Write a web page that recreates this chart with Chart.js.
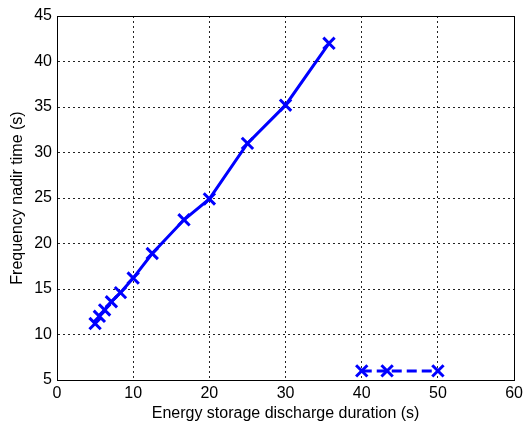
<!DOCTYPE html>
<html>
<head>
<meta charset="utf-8">
<script src="https://cdn.jsdelivr.net/npm/chart.js@4.4.1/dist/chart.umd.min.js"></script>
<style>
  html, body { margin: 0; padding: 0; background: #fff; }
  #wrap { width: 527px; height: 425px; }
</style>
</head>
<body>
<div id="wrap"><canvas id="nadirChart" width="527" height="425"></canvas></div>
<script>
// discharge duration (s) vs frequency nadir time (s)
const solidX = [5, 5.56, 6.25, 7.14, 8.33, 10, 12.5, 16.67, 20, 25, 30, 35.7];
const solidY = [11.2, 12.0, 12.7, 13.6, 14.6, 16.2, 18.9, 22.6, 24.9, 31.0, 35.2, 42.0];
const dashedX = [40, 43.33, 50];
const dashedY = [6, 6, 6];

const xTicks = [0, 10, 20, 30, 40, 50, 60];
const yTicks = [5, 10, 15, 20, 25, 30, 35, 40, 45];

function toPoints(xs, ys){
    return xs.map((x, i) => ({ x: x, y: ys[i] }));
}

// box round the plot area, like matlab axes
const boxPlugin = {
    id: 'box',
    afterDraw(chart){
        const a = chart.chartArea;
        const ctx = chart.ctx;
        ctx.save();
        ctx.strokeStyle = '#000';
        ctx.lineWidth = 1;
        ctx.setLineDash([]);
        ctx.strokeRect(Math.round(a.left) + 0.5, Math.round(a.top) + 0.5,
            Math.round(a.right - a.left), Math.round(a.bottom - a.top));
        ctx.restore();
    }
};

const font = { family: 'Liberation Sans, Arial, sans-serif', size: 16 };

const ctx = document.getElementById('nadirChart');

new Chart(ctx, {
    type: 'scatter',
    data: {
        datasets: [{
            data: toPoints(solidX, solidY),
            showLine: true,
            borderColor: '#0000ff',
            backgroundColor: '#0000ff',
            borderWidth: 3,
            pointStyle: 'crossRot',
            pointRadius: 8,
            pointBorderWidth: 3,
            pointHoverRadius: 8
        }, {
            data: toPoints(dashedX, dashedY),
            showLine: true,
            borderColor: '#0000ff',
            backgroundColor: '#0000ff',
            borderWidth: 3,
            borderDash: [10, 5],
            pointStyle: 'crossRot',
            pointRadius: 8,
            pointBorderWidth: 3,
            pointHoverRadius: 8
        }]
    },
    options: {
        responsive: false,
        animation: false,
        layout: { padding: { top: 16, right: 9, left: 0, bottom: 0 } },
        plugins: {
            legend: { display: false },
            tooltip: { enabled: false }
        },
        scales: {
            x: {
                type: 'linear',
                min: 0,
                max: 60,
                afterBuildTicks(scale){ scale.ticks = xTicks.map(v => ({ value: v })); },
                afterFit(scale){ scale.height = 45; },
                border: { display: true, color: '#000', width: 1, dash: [2, 3] },
                grid: { color: '#222', lineWidth: 1, tickLength: 0, drawTicks: false },
                ticks: { color: '#000', font: font, padding: 4, maxRotation: 0 },
                title: { display: true, text: 'Energy storage discharge duration (s)', color: '#000', font: font, padding: { top: 0, bottom: 2 } }
            },
            y: {
                type: 'linear',
                min: 5,
                max: 45,
                afterBuildTicks(scale){ scale.ticks = yTicks.map(v => ({ value: v })); },
                afterFit(scale){ scale.width = 57; },
                border: { display: true, color: '#000', width: 1, dash: [2, 3] },
                grid: { color: '#222', lineWidth: 1, tickLength: 0, drawTicks: false },
                ticks: { color: '#000', font: font, padding: 5 },
                title: { display: true, text: 'Frequency nadir time (s)', color: '#000', font: font, padding: { top: 8, bottom: 0 } }
            }
        }
    },
    plugins: [boxPlugin]
});
</script>
</body>
</html>
